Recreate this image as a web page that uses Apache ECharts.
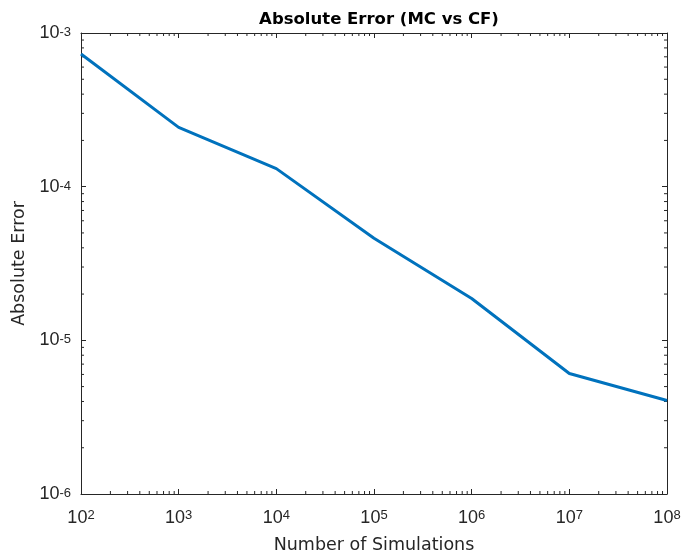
<!DOCTYPE html>
<html>
<head>
<meta charset="utf-8">
<script src="https://cdn.jsdelivr.net/npm/echarts@6/dist/echarts.min.js"></script>
<style>html,body{margin:0;padding:0;background:#fff}#c{width:682px;height:557px}</style>
</head>
<body>
<div id="c"></div>
<script>
const simulations = [1e2, 1e3, 1e4, 1e5, 1e6, 1e7, 1e8];
const absError = [7.3e-4, 2.43e-4, 1.31e-4, 4.62e-5, 1.87e-5, 6.08e-6, 4.06e-6];
const xMin = 1e2, xMax = 1e8;
const yMin = 1e-6, yMax = 1e-3;
const titleText = 'Absolute Error (MC vs CF)';
const xName = 'Number of Simulations';
const yName = 'Absolute Error';

const FONT = '"DejaVu Sans", "Liberation Sans", sans-serif';
const TFONT = '"Liberation Sans", Arial, sans-serif';
const TXT = '#262626';

function expLabel(v) {
  const e = Math.round(Math.log10(v));
  return '{b|10}{s|' + e + '}';
}
const richX = {
  b: { fontSize: 18, fontFamily: TFONT, color: TXT, lineHeight: 18, verticalAlign: 'bottom' },
  s: { fontSize: 13, fontFamily: TFONT, color: TXT, lineHeight: 13, verticalAlign: 'top', padding: [0, 0, 8, 0] }
};
const richY = {
  b: { fontSize: 18, fontFamily: TFONT, color: TXT, lineHeight: 18, verticalAlign: 'bottom', padding: [5, 0, 0, 0] },
  s: { fontSize: 13, fontFamily: TFONT, color: TXT, lineHeight: 13, verticalAlign: 'top', padding: [2, 0, 6, 0] }
};

// minor tick positions (2..9 x each decade)
function minors(lo, hi) {
  const out = [];
  for (let d = Math.round(Math.log10(lo)); d < Math.round(Math.log10(hi)); d++) {
    for (let k = 2; k <= 9; k++) out.push(k * Math.pow(10, d));
  }
  return out;
}
const xMinor = minors(xMin, xMax);
const yMinor = minors(yMin, yMax);
const minorData = xMinor.map(v => [v, yMin, 0]).concat(yMinor.map(v => [xMin, v, 1]));

const axisCommon = {
  type: 'log', logBase: 10,
  axisLine: { show: true, lineStyle: { color: TXT, width: 1 } },
  axisTick: { show: true, inside: true, length: 5, lineStyle: { color: TXT } },
  splitLine: { show: false },
  minorTick: { show: false }
};

const chart = echarts.init(document.getElementById('c'));
chart.setOption({
  animation: false,
  backgroundColor: '#fff',
  title: {
    text: titleText, left: 374, top: 6, textAlign: 'center',
    textStyle: { fontFamily: FONT, fontSize: 16.5, fontWeight: 'bold', color: '#000' }
  },
  grid: { left: 81, right: 15, top: 33, bottom: 63, containLabel: false, outerBoundsMode: 'none' },
  xAxis: [
    Object.assign({}, axisCommon, {
      min: xMin, max: xMax, position: 'bottom',
      name: xName, nameLocation: 'middle', nameGap: 42,
      nameTextStyle: { fontFamily: FONT, fontSize: 17.5, color: TXT },
      axisLabel: { formatter: expLabel, rich: richX, margin: 15 }
    }),
    Object.assign({}, axisCommon, {
      min: xMin, max: xMax, position: 'top', axisLabel: { show: false }
    })
  ],
  yAxis: [
    Object.assign({}, axisCommon, {
      min: yMin, max: yMax, position: 'left',
      name: yName, nameLocation: 'middle', nameGap: 50,
      nameTextStyle: { fontFamily: FONT, fontSize: 17.5, color: TXT },
      axisLabel: { formatter: expLabel, rich: richY, margin: 10 }
    }),
    Object.assign({}, axisCommon, {
      min: yMin, max: yMax, position: 'right', axisLabel: { show: false }
    })
  ],
  series: [
    {
      type: 'line', data: simulations.map((x, i) => [x, absError[i]]),
      showSymbol: false, symbol: 'none',
      lineStyle: { color: '#0072BD', width: 3 },
      xAxisIndex: 0, yAxisIndex: 0, z: 5
    },
    {
      type: 'custom', xAxisIndex: 0, yAxisIndex: 0, clip: false, silent: true,
      data: minorData,
      renderItem: function (params, api) {
        const kind = api.value(2);
        const style = { stroke: TXT, lineWidth: 1 };
        const L = 3;
        if (kind === 0) {
          const v = api.value(0);
          const b = api.coord([v, yMin]);
          const t = api.coord([v, yMax]);
          return { type: 'group', children: [
            { type: 'line', shape: { x1: b[0], y1: b[1], x2: b[0], y2: b[1] - L }, style: style },
            { type: 'line', shape: { x1: t[0], y1: t[1], x2: t[0], y2: t[1] + L }, style: style }
          ]};
        } else {
          const v = api.value(1);
          const l = api.coord([xMin, v]);
          const r = api.coord([xMax, v]);
          return { type: 'group', children: [
            { type: 'line', shape: { x1: l[0], y1: l[1], x2: l[0] + L, y2: l[1] }, style: style },
            { type: 'line', shape: { x1: r[0], y1: r[1], x2: r[0] - L, y2: r[1] }, style: style }
          ]};
        }
      }
    }
  ]
});
</script>
</body>
</html>
